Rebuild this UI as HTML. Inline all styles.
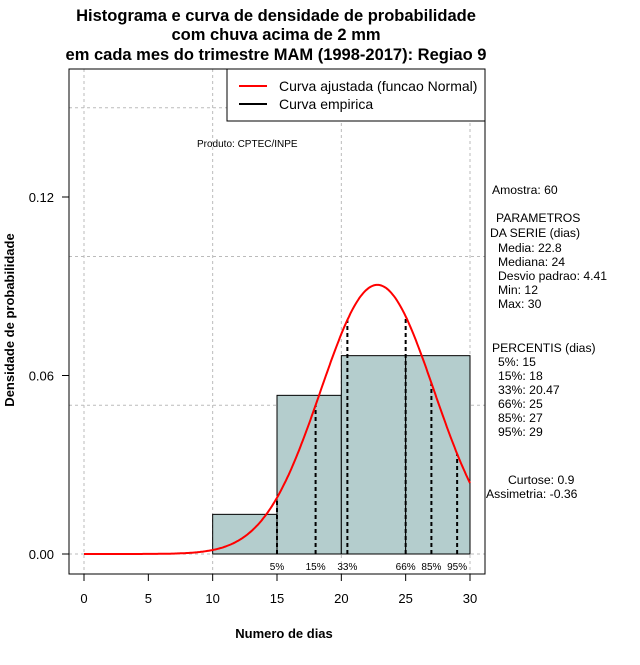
<!DOCTYPE html>
<html><head><meta charset="utf-8"><style>
body{margin:0;background:#fff;}
svg text{font-family:"Liberation Sans",sans-serif;}
</style></head><body>
<svg id="c" width="640" height="660" xmlns="http://www.w3.org/2000/svg">
<g font-weight="bold" font-size="16.5" text-anchor="middle">
<text x="276" y="21">Histograma e curva de densidade de probabilidade</text>
<text x="276" y="40">com chuva acima de 2 mm</text>
<text x="276" y="60">em cada mes do trimestre MAM (1998-2017): Regiao 9</text>
</g>
<g id="grid"></g>
<g id="bars"></g>
<g id="pct"></g>
<path id="curve" fill="none" stroke="#ff0000" stroke-width="2"/>
<rect x="69" y="69" width="416" height="505" fill="none" stroke="#000"/>
<g id="axes" font-size="13"></g>
<text x="284" y="638" font-size="13" font-weight="bold" text-anchor="middle">Numero de dias</text>
<text transform="translate(14,320) rotate(-90)" font-size="13" font-weight="bold" text-anchor="middle">Densidade de probabilidade</text>
<g>
<rect x="227" y="69" width="258" height="52" fill="#fff" stroke="#000"/>
<line x1="239" y1="86" x2="267" y2="86" stroke="#ff0000" stroke-width="2"/>
<line x1="239" y1="104" x2="267" y2="104" stroke="#000" stroke-width="2"/>
<text x="279" y="91" font-size="14">Curva ajustada (funcao Normal)</text>
<text x="279" y="109" font-size="14">Curva empirica</text>
</g>
<text x="197" y="147" font-size="10">Produto: CPTEC/INPE</text>
<g font-size="12.2">
<text x="492" y="194">Amostra: 60</text>
<text x="496" y="222">PARAMETROS</text>
<text x="490" y="237">DA SERIE (dias)</text>
<text x="498" y="252">Media: 22.8</text>
<text x="498" y="266">Mediana: 24</text>
<text x="498" y="280">Desvio padrao: 4.41</text>
<text x="498" y="294">Min: 12</text>
<text x="498" y="308">Max: 30</text>
<text x="492" y="352">PERCENTIS (dias)</text>
<text x="498" y="366">5%: 15</text>
<text x="498" y="380">15%: 18</text>
<text x="498" y="394">33%: 20.47</text>
<text x="498" y="408">66%: 25</text>
<text x="498" y="422">85%: 27</text>
<text x="498" y="436">95%: 29</text>
<text x="508" y="484">Curtose: 0.9</text>
<text x="486" y="498">Assimetria: -0.36</text>
</g>
</svg>
<script>
const binEdges=[10,15,20,25,30];
const binDensity=[0.01333,0.05333,0.06667,0.06667];
const pctValues=[15,18,20.47,25,27,29];
const pctLabels=["5%","15%","33%","66%","85%","95%"];
const xTicks=[0,5,10,15,20,25,30];
const yTicks=[0,0.06,0.12];
const yTickLabels=["0.00","0.06","0.12"];
const xGrid=[0,10,20,30];
const yGrid=[0,0.05,0.10,0.15];
const mean=22.8, sd=4.41;
const X=v=>84+v*(470-84)/30;
const Y=v=>554-v*(554-197)/0.12;
const NS="http://www.w3.org/2000/svg";
function mk(t,a,p){const e=document.createElementNS(NS,t);for(const k in a)e.setAttribute(k,a[k]);p.appendChild(e);return e;}
const pdf=x=>Math.exp(-0.5*((x-mean)/sd)**2)/(sd*Math.sqrt(2*Math.PI));
const grid=document.getElementById('grid');
xGrid.forEach(v=>{const l=mk('line',{x1:X(v),x2:X(v),y1:69,y2:574,stroke:'#bbb','stroke-dasharray':'3,3'},grid);

});
yGrid.forEach(v=>{const l=mk('line',{x1:69,x2:485,y1:Y(v),y2:Y(v),stroke:'#bbb','stroke-dasharray':'3,3'},grid);

});
const bars=document.getElementById('bars');
binDensity.forEach((d,i)=>{const r=mk('rect',{x:X(binEdges[i]),y:Y(d),width:X(binEdges[i+1])-X(binEdges[i]),height:Y(0)-Y(d),fill:'#b4cdcd',stroke:'#000'},bars);

});
const pg=document.getElementById('pct');
pctValues.forEach((v,i)=>{const l=mk('line',{x1:X(v),x2:X(v),y1:Y(0),y2:Y(pdf(v)),stroke:'#000','stroke-width':2,'stroke-dasharray':'4,3'},pg);


const t=mk('text',{x:X(v),y:570,'font-size':10,'text-anchor':'middle'},pg);
t.textContent=pctLabels[i];

});
let d='';for(let x=0;x<=30.001;x+=0.1){d+=(x?'L':'M')+X(x).toFixed(1)+','+Y(pdf(x)).toFixed(1);}
document.getElementById('curve').setAttribute('d',d);
const ax=document.getElementById('axes');
mk('line',{x1:X(0),x2:X(30),y1:574,y2:574,stroke:'#000'},ax);
mk('line',{x1:69,x2:69,y1:Y(0),y2:Y(0.12),stroke:'#000'},ax);
xTicks.forEach(v=>{mk('line',{x1:X(v),x2:X(v),y1:574,y2:581,stroke:'#000'},ax);
const t=mk('text',{x:X(v),y:603,'text-anchor':'middle'},ax);t.textContent=v;

});
yTicks.forEach((v,i)=>{mk('line',{x1:62,x2:69,y1:Y(v),y2:Y(v),stroke:'#000'},ax);
const t=mk('text',{x:54,y:Y(v)+5,'text-anchor':'end'},ax);t.textContent=yTickLabels[i];

});
</script>
</body></html>
